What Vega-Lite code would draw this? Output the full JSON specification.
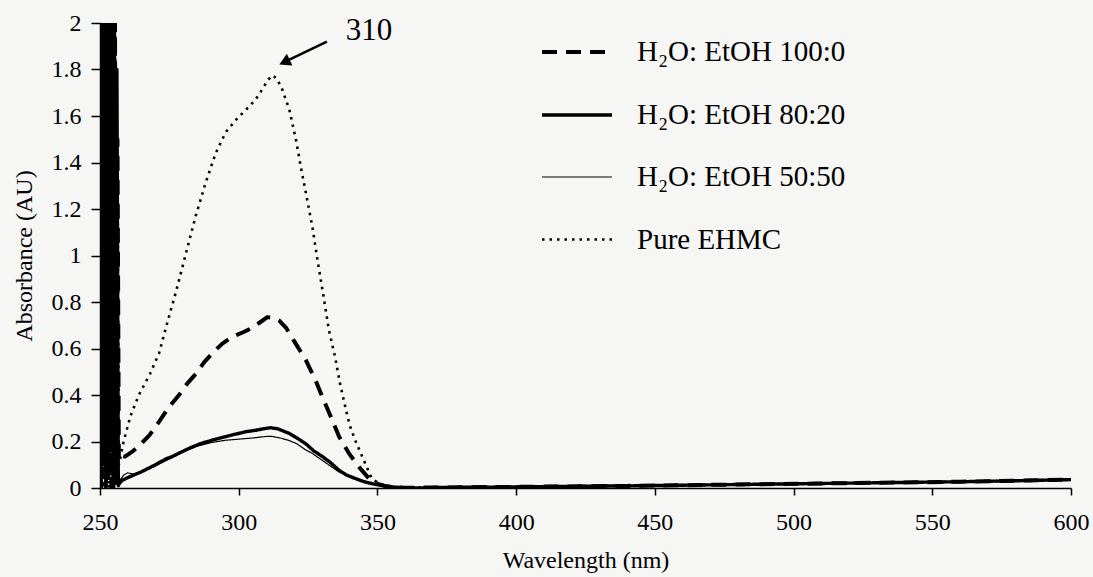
{
  "$schema": "https://vega.github.io/schema/vega-lite/v6.json",
  "width": 971,
  "height": 465,
  "autosize": {"type": "none"},
  "padding": {"left": 100, "top": 23, "right": 22, "bottom": 89},
  "background": "#f6f6f4",
  "config": {
    "view": {"stroke": null},
    "font": "Liberation Serif",
    "style": {
      "guide-label": {"font": "Liberation Serif", "fill": "black"},
      "guide-title": {"font": "Liberation Serif", "fill": "black"}
    },
    "axis": {
      "grid": false,
      "domainColor": "black",
      "domainWidth": 1.5,
      "tickColor": "black",
      "tickWidth": 1.5,
      "labelColor": "black",
      "labelFont": "Liberation Serif",
      "labelFontSize": 24,
      "titleFont": "Liberation Serif",
      "titleFontSize": 24,
      "titleFontWeight": "normal",
      "titleColor": "black"
    },
    "legend": {
      "orient": "none",
      "legendX": 440,
      "legendY": -8,
      "symbolType": "stroke",
      "symbolSize": 4900,
      "symbolStrokeColor": "black",
      "labelFont": "Liberation Serif",
      "labelFontSize": 29,
      "labelColor": "black",
      "labelOffset": 23,
      "labelLimit": 400,
      "rowPadding": 11
    }
  },
  "datasets": {
    "spectra": [
      {"s": "H₂O: EtOH 100:0", "w": 250, "a": 0},
      {"s": "H₂O: EtOH 100:0", "w": 250.3, "a": 2},
      {"s": "H₂O: EtOH 100:0", "w": 250.7, "a": 0.05},
      {"s": "H₂O: EtOH 100:0", "w": 251, "a": 2},
      {"s": "H₂O: EtOH 100:0", "w": 251.4, "a": 0.2},
      {"s": "H₂O: EtOH 100:0", "w": 251.8, "a": 2},
      {"s": "H₂O: EtOH 100:0", "w": 252.3, "a": 0.1},
      {"s": "H₂O: EtOH 100:0", "w": 252.7, "a": 2},
      {"s": "H₂O: EtOH 100:0", "w": 253.2, "a": 0.3},
      {"s": "H₂O: EtOH 100:0", "w": 253.6, "a": 2},
      {"s": "H₂O: EtOH 100:0", "w": 254.1, "a": 0},
      {"s": "H₂O: EtOH 100:0", "w": 254.5, "a": 2},
      {"s": "H₂O: EtOH 100:0", "w": 255, "a": 0.15},
      {"s": "H₂O: EtOH 100:0", "w": 255.4, "a": 2},
      {"s": "H₂O: EtOH 100:0", "w": 255.9, "a": 0.05},
      {"s": "H₂O: EtOH 100:0", "w": 256.3, "a": 1.5},
      {"s": "H₂O: EtOH 100:0", "w": 256.8, "a": 0.12},
      {"s": "H₂O: EtOH 100:0", "w": 257.5, "a": 0.14},
      {"s": "H₂O: EtOH 100:0", "w": 259, "a": 0.135},
      {"s": "H₂O: EtOH 100:0", "w": 262, "a": 0.16},
      {"s": "H₂O: EtOH 100:0", "w": 264, "a": 0.18},
      {"s": "H₂O: EtOH 100:0", "w": 268, "a": 0.23},
      {"s": "H₂O: EtOH 100:0", "w": 271, "a": 0.28},
      {"s": "H₂O: EtOH 100:0", "w": 275, "a": 0.35},
      {"s": "H₂O: EtOH 100:0", "w": 278.5, "a": 0.40},
      {"s": "H₂O: EtOH 100:0", "w": 281.5, "a": 0.45},
      {"s": "H₂O: EtOH 100:0", "w": 284.5, "a": 0.49},
      {"s": "H₂O: EtOH 100:0", "w": 287.5, "a": 0.54},
      {"s": "H₂O: EtOH 100:0", "w": 290.5, "a": 0.58},
      {"s": "H₂O: EtOH 100:0", "w": 294, "a": 0.62},
      {"s": "H₂O: EtOH 100:0", "w": 297, "a": 0.645},
      {"s": "H₂O: EtOH 100:0", "w": 299, "a": 0.657},
      {"s": "H₂O: EtOH 100:0", "w": 302, "a": 0.672},
      {"s": "H₂O: EtOH 100:0", "w": 305, "a": 0.69},
      {"s": "H₂O: EtOH 100:0", "w": 308, "a": 0.715},
      {"s": "H₂O: EtOH 100:0", "w": 310.3, "a": 0.735},
      {"s": "H₂O: EtOH 100:0", "w": 312.5, "a": 0.732},
      {"s": "H₂O: EtOH 100:0", "w": 314.6, "a": 0.72},
      {"s": "H₂O: EtOH 100:0", "w": 317, "a": 0.69},
      {"s": "H₂O: EtOH 100:0", "w": 320.6, "a": 0.62},
      {"s": "H₂O: EtOH 100:0", "w": 324.2, "a": 0.55},
      {"s": "H₂O: EtOH 100:0", "w": 327.8, "a": 0.46},
      {"s": "H₂O: EtOH 100:0", "w": 330.2, "a": 0.39},
      {"s": "H₂O: EtOH 100:0", "w": 333.8, "a": 0.29},
      {"s": "H₂O: EtOH 100:0", "w": 336.2, "a": 0.22},
      {"s": "H₂O: EtOH 100:0", "w": 339.8, "a": 0.148},
      {"s": "H₂O: EtOH 100:0", "w": 343.4, "a": 0.09},
      {"s": "H₂O: EtOH 100:0", "w": 347, "a": 0.04},
      {"s": "H₂O: EtOH 100:0", "w": 350, "a": 0.018},
      {"s": "H₂O: EtOH 100:0", "w": 353, "a": 0.008},
      {"s": "H₂O: EtOH 100:0", "w": 356, "a": 0.003},
      {"s": "H₂O: EtOH 100:0", "w": 360, "a": 0.001},
      {"s": "H₂O: EtOH 100:0", "w": 380, "a": 0.003},
      {"s": "H₂O: EtOH 100:0", "w": 400, "a": 0.005},
      {"s": "H₂O: EtOH 100:0", "w": 440, "a": 0.009},
      {"s": "H₂O: EtOH 100:0", "w": 480, "a": 0.015},
      {"s": "H₂O: EtOH 100:0", "w": 520, "a": 0.021},
      {"s": "H₂O: EtOH 100:0", "w": 560, "a": 0.027},
      {"s": "H₂O: EtOH 100:0", "w": 600, "a": 0.036},

      {"s": "H₂O: EtOH 80:20", "w": 250, "a": 2},
      {"s": "H₂O: EtOH 80:20", "w": 250.4, "a": 0},
      {"s": "H₂O: EtOH 80:20", "w": 250.8, "a": 2},
      {"s": "H₂O: EtOH 80:20", "w": 251.2, "a": 0.1},
      {"s": "H₂O: EtOH 80:20", "w": 251.6, "a": 2},
      {"s": "H₂O: EtOH 80:20", "w": 252.1, "a": 0},
      {"s": "H₂O: EtOH 80:20", "w": 252.5, "a": 2},
      {"s": "H₂O: EtOH 80:20", "w": 253, "a": 0.05},
      {"s": "H₂O: EtOH 80:20", "w": 253.4, "a": 2},
      {"s": "H₂O: EtOH 80:20", "w": 253.9, "a": 0.2},
      {"s": "H₂O: EtOH 80:20", "w": 254.3, "a": 2},
      {"s": "H₂O: EtOH 80:20", "w": 254.8, "a": 0},
      {"s": "H₂O: EtOH 80:20", "w": 255.2, "a": 2},
      {"s": "H₂O: EtOH 80:20", "w": 255.7, "a": 0.02},
      {"s": "H₂O: EtOH 80:20", "w": 256.1, "a": 1.8},
      {"s": "H₂O: EtOH 80:20", "w": 256.6, "a": 0.01},
      {"s": "H₂O: EtOH 80:20", "w": 257, "a": 0.02},
      {"s": "H₂O: EtOH 80:20", "w": 258, "a": 0.033},
      {"s": "H₂O: EtOH 80:20", "w": 261, "a": 0.05},
      {"s": "H₂O: EtOH 80:20", "w": 265, "a": 0.07},
      {"s": "H₂O: EtOH 80:20", "w": 270, "a": 0.10},
      {"s": "H₂O: EtOH 80:20", "w": 273.7, "a": 0.125},
      {"s": "H₂O: EtOH 80:20", "w": 276, "a": 0.135},
      {"s": "H₂O: EtOH 80:20", "w": 278.5, "a": 0.15},
      {"s": "H₂O: EtOH 80:20", "w": 282, "a": 0.17},
      {"s": "H₂O: EtOH 80:20", "w": 286, "a": 0.19},
      {"s": "H₂O: EtOH 80:20", "w": 290.5, "a": 0.206},
      {"s": "H₂O: EtOH 80:20", "w": 295, "a": 0.22},
      {"s": "H₂O: EtOH 80:20", "w": 299, "a": 0.232},
      {"s": "H₂O: EtOH 80:20", "w": 302.5, "a": 0.242},
      {"s": "H₂O: EtOH 80:20", "w": 306, "a": 0.248},
      {"s": "H₂O: EtOH 80:20", "w": 309, "a": 0.255},
      {"s": "H₂O: EtOH 80:20", "w": 311.5, "a": 0.259},
      {"s": "H₂O: EtOH 80:20", "w": 314, "a": 0.255},
      {"s": "H₂O: EtOH 80:20", "w": 318.2, "a": 0.235},
      {"s": "H₂O: EtOH 80:20", "w": 321, "a": 0.215},
      {"s": "H₂O: EtOH 80:20", "w": 324.2, "a": 0.19},
      {"s": "H₂O: EtOH 80:20", "w": 327, "a": 0.16},
      {"s": "H₂O: EtOH 80:20", "w": 330.2, "a": 0.135},
      {"s": "H₂O: EtOH 80:20", "w": 333, "a": 0.11},
      {"s": "H₂O: EtOH 80:20", "w": 336.2, "a": 0.076},
      {"s": "H₂O: EtOH 80:20", "w": 339, "a": 0.055},
      {"s": "H₂O: EtOH 80:20", "w": 342.2, "a": 0.04},
      {"s": "H₂O: EtOH 80:20", "w": 345, "a": 0.028},
      {"s": "H₂O: EtOH 80:20", "w": 348, "a": 0.019},
      {"s": "H₂O: EtOH 80:20", "w": 352, "a": 0.01},
      {"s": "H₂O: EtOH 80:20", "w": 356, "a": 0.004},
      {"s": "H₂O: EtOH 80:20", "w": 360, "a": 0.001},
      {"s": "H₂O: EtOH 80:20", "w": 365, "a": 0.0},
      {"s": "H₂O: EtOH 80:20", "w": 370, "a": 0.002},
      {"s": "H₂O: EtOH 80:20", "w": 380, "a": 0.003},
      {"s": "H₂O: EtOH 80:20", "w": 390, "a": 0.003},
      {"s": "H₂O: EtOH 80:20", "w": 400, "a": 0.005},
      {"s": "H₂O: EtOH 80:20", "w": 420, "a": 0.007},
      {"s": "H₂O: EtOH 80:20", "w": 440, "a": 0.009},
      {"s": "H₂O: EtOH 80:20", "w": 460, "a": 0.012},
      {"s": "H₂O: EtOH 80:20", "w": 480, "a": 0.015},
      {"s": "H₂O: EtOH 80:20", "w": 500, "a": 0.018},
      {"s": "H₂O: EtOH 80:20", "w": 520, "a": 0.021},
      {"s": "H₂O: EtOH 80:20", "w": 540, "a": 0.024},
      {"s": "H₂O: EtOH 80:20", "w": 560, "a": 0.027},
      {"s": "H₂O: EtOH 80:20", "w": 580, "a": 0.031},
      {"s": "H₂O: EtOH 80:20", "w": 600, "a": 0.036},

      {"s": "H₂O: EtOH 50:50", "w": 250.1, "a": 0.1},
      {"s": "H₂O: EtOH 50:50", "w": 250.5, "a": 2},
      {"s": "H₂O: EtOH 50:50", "w": 250.9, "a": 0},
      {"s": "H₂O: EtOH 50:50", "w": 251.3, "a": 2},
      {"s": "H₂O: EtOH 50:50", "w": 251.8, "a": 0.15},
      {"s": "H₂O: EtOH 50:50", "w": 252.2, "a": 2},
      {"s": "H₂O: EtOH 50:50", "w": 252.6, "a": 0},
      {"s": "H₂O: EtOH 50:50", "w": 253.1, "a": 2},
      {"s": "H₂O: EtOH 50:50", "w": 253.5, "a": 0.1},
      {"s": "H₂O: EtOH 50:50", "w": 254, "a": 2},
      {"s": "H₂O: EtOH 50:50", "w": 254.4, "a": 0.05},
      {"s": "H₂O: EtOH 50:50", "w": 254.9, "a": 2},
      {"s": "H₂O: EtOH 50:50", "w": 255.3, "a": 0},
      {"s": "H₂O: EtOH 50:50", "w": 255.8, "a": 1.6},
      {"s": "H₂O: EtOH 50:50", "w": 256.2, "a": 0.03},
      {"s": "H₂O: EtOH 50:50", "w": 256.7, "a": 0.04},
      {"s": "H₂O: EtOH 50:50", "w": 257, "a": 0.03},
      {"s": "H₂O: EtOH 50:50", "w": 258.5, "a": 0.055},
      {"s": "H₂O: EtOH 50:50", "w": 260, "a": 0.065},
      {"s": "H₂O: EtOH 50:50", "w": 262, "a": 0.06},
      {"s": "H₂O: EtOH 50:50", "w": 265, "a": 0.07},
      {"s": "H₂O: EtOH 50:50", "w": 270, "a": 0.095},
      {"s": "H₂O: EtOH 50:50", "w": 275, "a": 0.125},
      {"s": "H₂O: EtOH 50:50", "w": 280, "a": 0.155},
      {"s": "H₂O: EtOH 50:50", "w": 285, "a": 0.18},
      {"s": "H₂O: EtOH 50:50", "w": 290, "a": 0.195},
      {"s": "H₂O: EtOH 50:50", "w": 295, "a": 0.205},
      {"s": "H₂O: EtOH 50:50", "w": 300, "a": 0.21},
      {"s": "H₂O: EtOH 50:50", "w": 305, "a": 0.215},
      {"s": "H₂O: EtOH 50:50", "w": 310, "a": 0.222},
      {"s": "H₂O: EtOH 50:50", "w": 312, "a": 0.222},
      {"s": "H₂O: EtOH 50:50", "w": 315, "a": 0.215},
      {"s": "H₂O: EtOH 50:50", "w": 318, "a": 0.205},
      {"s": "H₂O: EtOH 50:50", "w": 321, "a": 0.19},
      {"s": "H₂O: EtOH 50:50", "w": 324, "a": 0.165},
      {"s": "H₂O: EtOH 50:50", "w": 326.6, "a": 0.148},
      {"s": "H₂O: EtOH 50:50", "w": 330, "a": 0.12},
      {"s": "H₂O: EtOH 50:50", "w": 333, "a": 0.095},
      {"s": "H₂O: EtOH 50:50", "w": 336, "a": 0.07},
      {"s": "H₂O: EtOH 50:50", "w": 340, "a": 0.048},
      {"s": "H₂O: EtOH 50:50", "w": 344, "a": 0.03},
      {"s": "H₂O: EtOH 50:50", "w": 348, "a": 0.018},
      {"s": "H₂O: EtOH 50:50", "w": 352, "a": 0.01},
      {"s": "H₂O: EtOH 50:50", "w": 356, "a": 0.004},
      {"s": "H₂O: EtOH 50:50", "w": 360, "a": 0.001},
      {"s": "H₂O: EtOH 50:50", "w": 380, "a": 0.004},
      {"s": "H₂O: EtOH 50:50", "w": 400, "a": 0.006},
      {"s": "H₂O: EtOH 50:50", "w": 440, "a": 0.01},
      {"s": "H₂O: EtOH 50:50", "w": 480, "a": 0.016},
      {"s": "H₂O: EtOH 50:50", "w": 520, "a": 0.022},
      {"s": "H₂O: EtOH 50:50", "w": 560, "a": 0.028},
      {"s": "H₂O: EtOH 50:50", "w": 600, "a": 0.037},

      {"s": "Pure EHMC", "w": 250.2, "a": 2},
      {"s": "Pure EHMC", "w": 250.6, "a": 0.1},
      {"s": "Pure EHMC", "w": 251, "a": 2},
      {"s": "Pure EHMC", "w": 251.5, "a": 0},
      {"s": "Pure EHMC", "w": 251.9, "a": 2},
      {"s": "Pure EHMC", "w": 252.4, "a": 0.2},
      {"s": "Pure EHMC", "w": 252.8, "a": 2},
      {"s": "Pure EHMC", "w": 253.3, "a": 0},
      {"s": "Pure EHMC", "w": 253.7, "a": 2},
      {"s": "Pure EHMC", "w": 254.2, "a": 0.1},
      {"s": "Pure EHMC", "w": 254.6, "a": 2},
      {"s": "Pure EHMC", "w": 255.1, "a": 0.05},
      {"s": "Pure EHMC", "w": 255.5, "a": 2},
      {"s": "Pure EHMC", "w": 256, "a": 0.1},
      {"s": "Pure EHMC", "w": 256.4, "a": 1.2},
      {"s": "Pure EHMC", "w": 256.8, "a": 0.1},
      {"s": "Pure EHMC", "w": 257.2, "a": 0.12},
      {"s": "Pure EHMC", "w": 258.5, "a": 0.2},
      {"s": "Pure EHMC", "w": 261, "a": 0.31},
      {"s": "Pure EHMC", "w": 264, "a": 0.40},
      {"s": "Pure EHMC", "w": 268, "a": 0.49},
      {"s": "Pure EHMC", "w": 271.3, "a": 0.58},
      {"s": "Pure EHMC", "w": 274, "a": 0.70},
      {"s": "Pure EHMC", "w": 277.3, "a": 0.84},
      {"s": "Pure EHMC", "w": 281, "a": 1.01},
      {"s": "Pure EHMC", "w": 284.5, "a": 1.17},
      {"s": "Pure EHMC", "w": 288, "a": 1.31},
      {"s": "Pure EHMC", "w": 291.7, "a": 1.44},
      {"s": "Pure EHMC", "w": 295.3, "a": 1.53},
      {"s": "Pure EHMC", "w": 299.5, "a": 1.59},
      {"s": "Pure EHMC", "w": 303.7, "a": 1.64},
      {"s": "Pure EHMC", "w": 306, "a": 1.67},
      {"s": "Pure EHMC", "w": 308.5, "a": 1.715},
      {"s": "Pure EHMC", "w": 310.5, "a": 1.755},
      {"s": "Pure EHMC", "w": 312.2, "a": 1.775},
      {"s": "Pure EHMC", "w": 313.8, "a": 1.76},
      {"s": "Pure EHMC", "w": 315.5, "a": 1.72},
      {"s": "Pure EHMC", "w": 318.2, "a": 1.63},
      {"s": "Pure EHMC", "w": 320.6, "a": 1.50},
      {"s": "Pure EHMC", "w": 322.4, "a": 1.38},
      {"s": "Pure EHMC", "w": 324.2, "a": 1.27},
      {"s": "Pure EHMC", "w": 326.6, "a": 1.12},
      {"s": "Pure EHMC", "w": 328.4, "a": 0.98},
      {"s": "Pure EHMC", "w": 330.5, "a": 0.83},
      {"s": "Pure EHMC", "w": 332.5, "a": 0.68},
      {"s": "Pure EHMC", "w": 334.8, "a": 0.56},
      {"s": "Pure EHMC", "w": 336.5, "a": 0.45},
      {"s": "Pure EHMC", "w": 338.4, "a": 0.35},
      {"s": "Pure EHMC", "w": 340, "a": 0.27},
      {"s": "Pure EHMC", "w": 342, "a": 0.205},
      {"s": "Pure EHMC", "w": 345.6, "a": 0.105},
      {"s": "Pure EHMC", "w": 348, "a": 0.04},
      {"s": "Pure EHMC", "w": 350.6, "a": 0.02},
      {"s": "Pure EHMC", "w": 353, "a": 0.01},
      {"s": "Pure EHMC", "w": 356, "a": 0.003},
      {"s": "Pure EHMC", "w": 360, "a": 0.001},
      {"s": "Pure EHMC", "w": 400, "a": 0.005},
      {"s": "Pure EHMC", "w": 480, "a": 0.015},
      {"s": "Pure EHMC", "w": 560, "a": 0.027},
      {"s": "Pure EHMC", "w": 600, "a": 0.036}
    ],
    "arrow": [
      {"w": 331.8, "a": 1.92},
      {"w": 317.5, "a": 1.838}
    ],
    "arrowhead": [
      {"w": 316.5, "a": 1.832}
    ],
    "note": [
      {"w": 347, "a": 1.966, "t": "310"}
    ]
  },
  "layer": [
    {
      "data": {"name": "spectra"},
      "mark": {"type": "line", "clip": true, "color": "black", "strokeCap": "butt", "strokeJoin": "round"},
      "encoding": {
        "x": {
          "field": "w", "type": "quantitative",
          "scale": {"domain": [250, 600], "nice": false, "zero": false},
          "axis": {
            "title": "Wavelength (nm)",
            "values": [250, 300, 350, 400, 450, 500, 550, 600],
            "tickSize": 7,
            "labelPadding": 15,
            "titlePadding": 14,
            "labelFlush": false,
            "labelFont": "Liberation Serif",
            "titleFont": "Liberation Serif",
            "labelFontSize": 24,
            "titleFontSize": 24
          }
        },
        "y": {
          "field": "a", "type": "quantitative",
          "scale": {"domain": [0, 2], "nice": false},
          "axis": {
            "title": "Absorbance (AU)",
            "values": [0, 0.2, 0.4, 0.6, 0.8, 1, 1.2, 1.4, 1.6, 1.8, 2],
            "format": "~g",
            "tickSize": 9,
            "labelPadding": 10,
            "titlePadding": 15,
            "labelFlush": false,
            "labelFont": "Liberation Serif",
            "titleFont": "Liberation Serif",
            "labelFontSize": 24,
            "titleFontSize": 24
          }
        },
        "strokeDash": {
          "field": "s", "type": "nominal",
          "scale": {
            "domain": ["H₂O: EtOH 100:0", "H₂O: EtOH 80:20", "H₂O: EtOH 50:50", "Pure EHMC"],
            "range": [[15, 9], [1, 0], [1, 0], [2.5, 5]]
          },
          "legend": {"title": null, "labelFont": "Liberation Serif", "labelFontSize": 29}
        },
        "strokeWidth": {
          "field": "s", "type": "nominal",
          "scale": {
            "type": "ordinal",
            "domain": ["H₂O: EtOH 100:0", "H₂O: EtOH 80:20", "H₂O: EtOH 50:50", "Pure EHMC"],
            "range": [4, 3.4, 1.2, 2.6]
          },
          "legend": {"title": null, "labelFont": "Liberation Serif", "labelFontSize": 29}
        }
      }
    },
    {
      "data": {"name": "arrow"},
      "mark": {"type": "line", "color": "black", "strokeWidth": 2.5},
      "encoding": {
        "x": {"field": "w", "type": "quantitative", "scale": {"domain": [250, 600], "nice": false, "zero": false}},
        "y": {"field": "a", "type": "quantitative", "scale": {"domain": [0, 2], "nice": false}}
      }
    },
    {
      "data": {"name": "arrowhead"},
      "mark": {"type": "point", "shape": "triangle-up", "filled": true, "color": "black", "opacity": 1, "size": 170, "angle": 245},
      "encoding": {
        "x": {"field": "w", "type": "quantitative", "scale": {"domain": [250, 600], "nice": false, "zero": false}},
        "y": {"field": "a", "type": "quantitative", "scale": {"domain": [0, 2], "nice": false}}
      }
    },
    {
      "data": {"name": "note"},
      "mark": {"type": "text", "font": "Liberation Serif", "fontSize": 31, "color": "black", "align": "center", "baseline": "middle"},
      "encoding": {
        "x": {"field": "w", "type": "quantitative", "scale": {"domain": [250, 600], "nice": false, "zero": false}},
        "y": {"field": "a", "type": "quantitative", "scale": {"domain": [0, 2], "nice": false}},
        "text": {"field": "t", "type": "nominal"}
      }
    }
  ]
}
